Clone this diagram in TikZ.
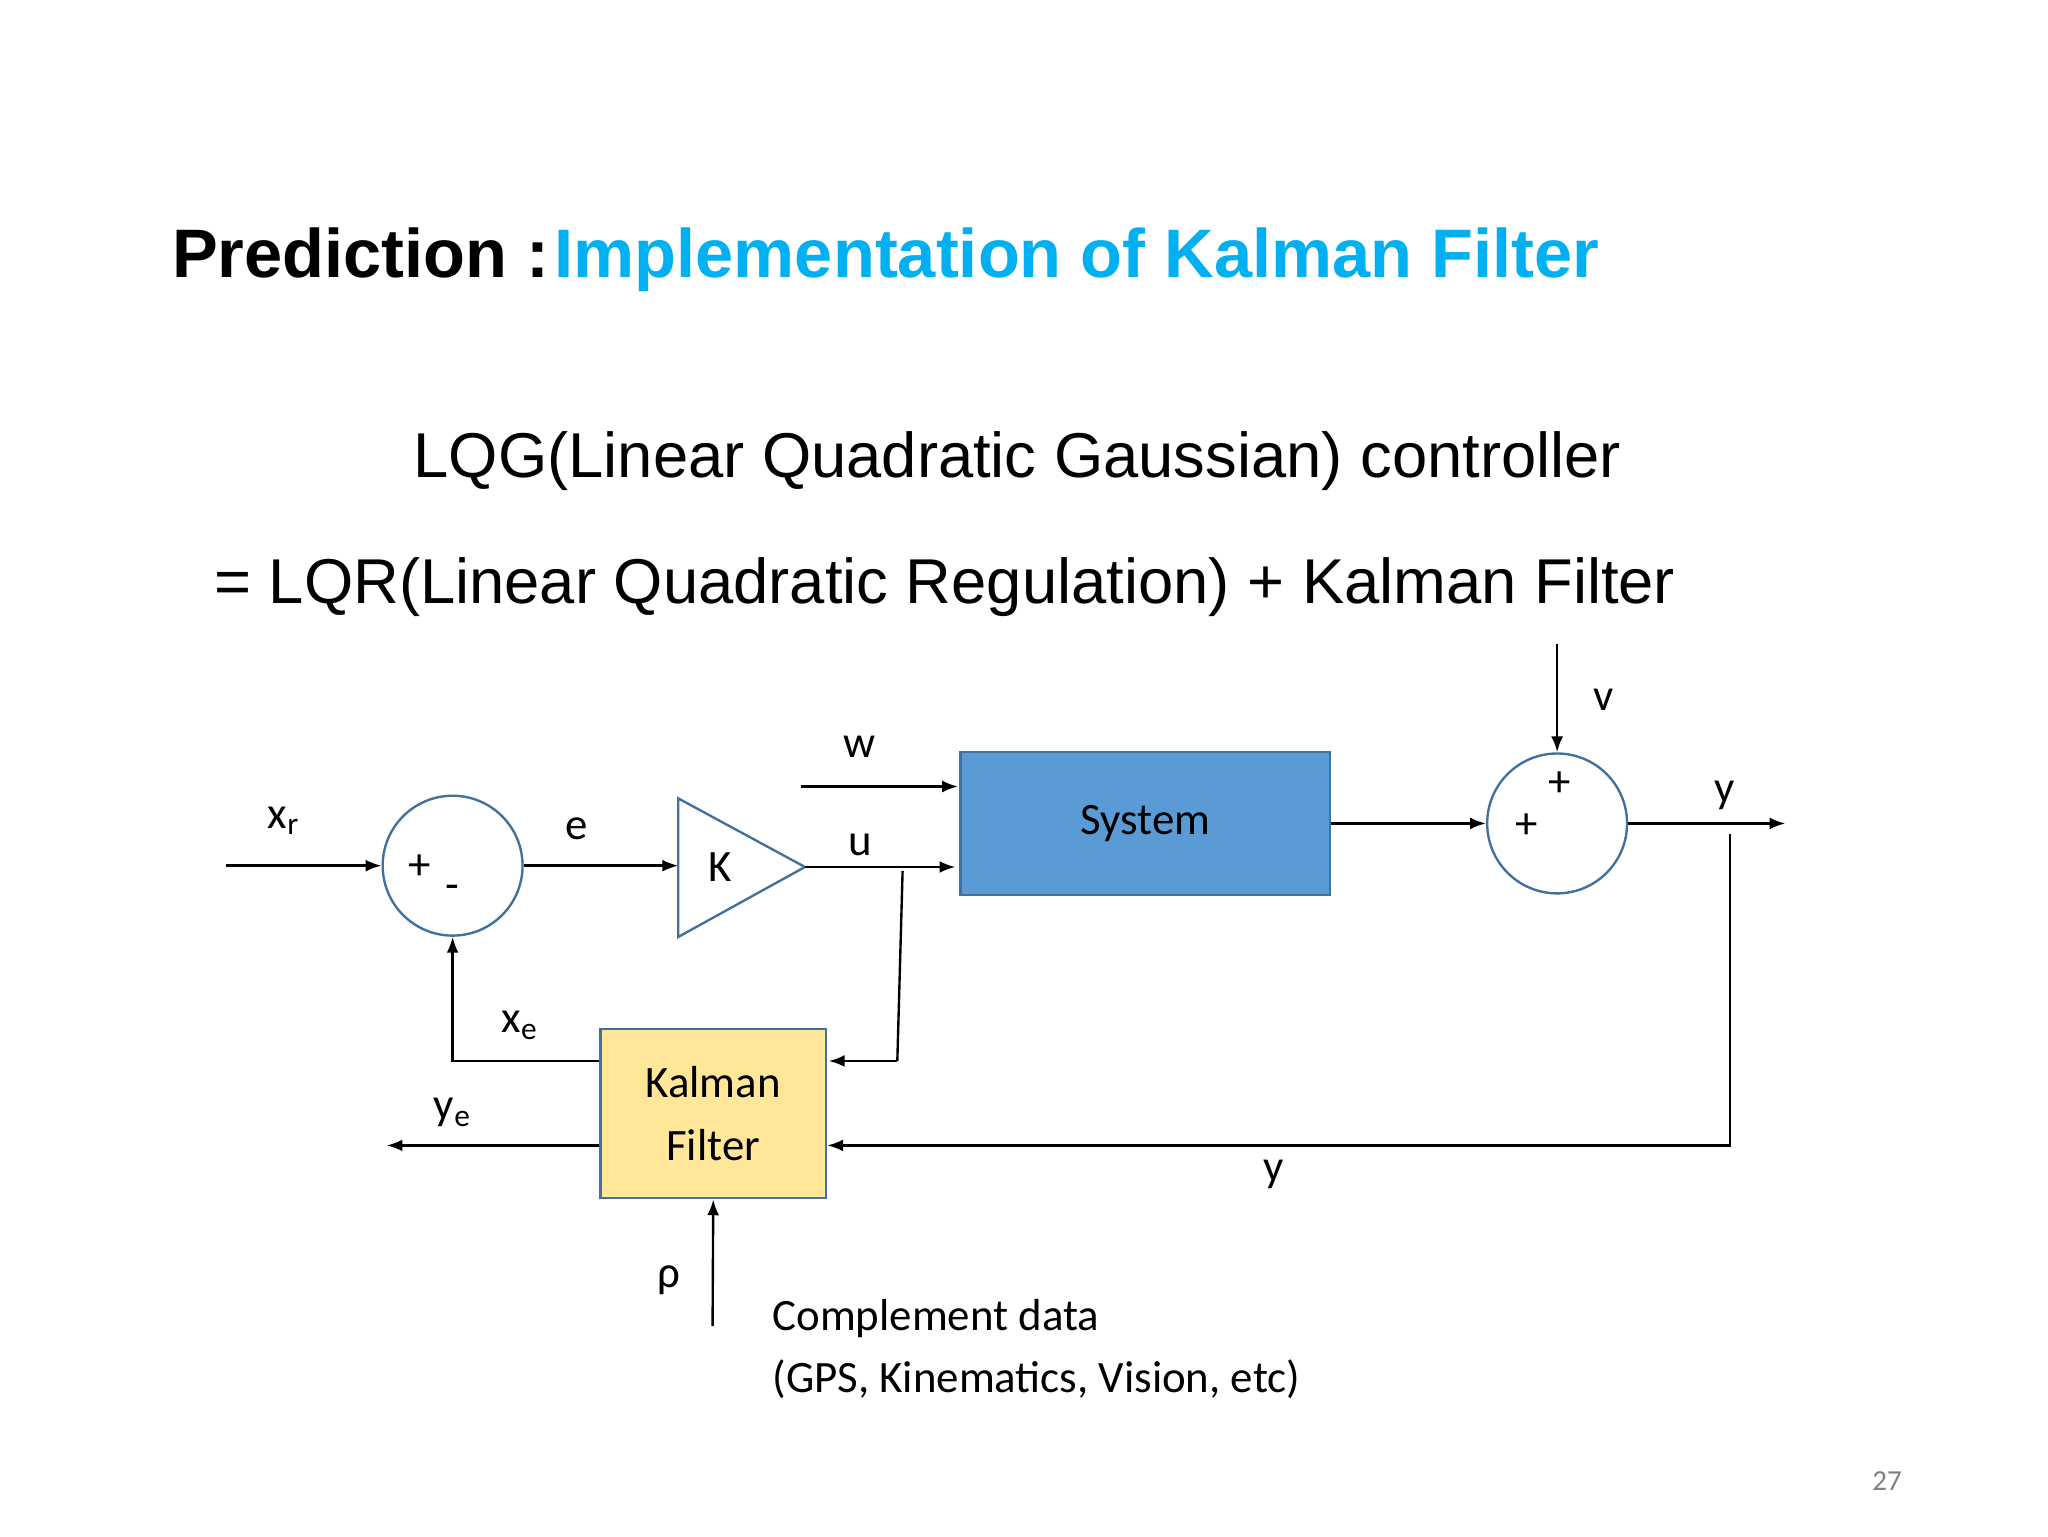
\documentclass[tikz,border=0pt]{standalone}
\usepackage{fontspec}
\setmainfont{Carlito}
\newfontfamily\arialf{Liberation Sans}
\usetikzlibrary{arrows.meta,shapes.geometric}
\definecolor{cy}{RGB}{0,176,240}
\definecolor{bord}{RGB}{65,113,156}
\definecolor{sysb}{RGB}{91,155,213}
\definecolor{kal}{RGB}{255,230,153}
\begin{document}
\begin{tikzpicture}[x=0.5pt,y=-0.5pt,
  arr/.style={-{Latex[length=6pt,width=4.5pt]},line width=0.9pt},
  ln/.style={line width=0.9pt},
  lbl/.style={font=\fontsize{17}{20}\selectfont,inner sep=0pt},
  sum/.style={circle,draw=bord,line width=0.9pt,minimum size=53pt,inner sep=0pt}]
\useasboundingbox[fill=white] (0,0) rectangle (1552,1164);
\node[anchor=base west,inner sep=0pt,font=\arialf\bfseries\fontsize{26}{30}\selectfont] (t1) at (130,210) {Prediction :};
\node[anchor=base west,inner sep=0pt,font=\arialf\bfseries\fontsize{26}{30}\selectfont,text=cy] (t2) at (420,210) {Implementation of Kalman Filter};
\node[anchor=base,inner sep=0pt,font=\arialf\fontsize{24}{28}\selectfont] (l1) at (771,362) {LQG(Linear Quadratic Gaussian) controller};
\node[anchor=base west,inner sep=0pt,font=\arialf\fontsize{24}{28}\selectfont] (l2) at (162,457) {= LQR(Linear Quadratic Regulation) + Kalman Filter};

\node[sum] (s1) at (343,656) {};
\node[sum] (s2) at (1180,624) {};
\draw[bord,line width=0.9pt] (514,605) -- (514,710) -- (610,657) -- cycle;
\coordinate (ktip) at (610,657);
\node[lbl] (K) at (546,657) {K};
\node[draw=bord,fill=sysb,line width=0.9pt,minimum width=140pt,minimum height=54pt,lbl] (sys) at (868,624) {System};
\node[draw=bord,fill=kal,line width=0.9pt,minimum width=85.5pt,minimum height=64pt,align=center,lbl,font=\fontsize{17}{24}\selectfont] (kf) at (540.5,844) {Kalman\\Filter};

\coordinate (xr0) at (171,656);
\coordinate (w0) at (607,596);
\coordinate (v0) at (1180,488);
\coordinate (yend) at (1353,624);
\coordinate (yb) at (1311,632);
\coordinate (yc) at (1311,868);
\coordinate (ub) at (684,660);
\coordinate (uc) at (680,804);
\coordinate (xe1) at (343,804);
\coordinate (ye0) at (293,868);
\coordinate (rho0) at (540,1005);

\draw[arr] (xr0) -- (s1.west);
\draw[arr] (s1.east) -- (514,656);
\draw[arr] (ktip) -- (724,657);
\draw[arr] (w0) -- (726,596);
\draw[arr] (sys.east) -- (s2.west);
\draw[arr] (v0) -- (s2.north);
\draw[arr] (s2.east) -- (yend);
\draw[arr] (yb) -- (yc) -- (kf.east |- yc);
\draw[ln] (ub) -- (uc);
\draw[arr] (uc) -- (628,804);
\draw[arr] (kf.west |- xe1) -- (xe1) -- (s1.south);
\draw[arr] (kf.west |- ye0) -- (ye0);
\draw[arr] (rho0) -- (kf.south);

\node[lbl] (lxr) at (215,622) {x\textsubscript{r}};
\node[lbl] (le) at (437,628) {e};
\node[lbl] (lu) at (652,640) {u};
\node[lbl] (lw) at (651,566) {w};
\node[lbl] (lv) at (1215,530) {v};
\node[lbl] (p1) at (1182,594) {+};
\node[lbl] (p2) at (1157,626) {+};
\node[lbl] (ly) at (1307,603) {y};
\node[lbl] (p3) at (318,657) {+};
\node[lbl] (m1) at (343,676) {-};
\node[lbl] (lxe) at (394,777) {x\textsubscript{e}};
\node[lbl] (lye) at (343,843) {y\textsubscript{e}};
\node[lbl] (ly2) at (965,890) {y};
\node[lbl] (lrho) at (507,970) {ρ};
\node[lbl,anchor=base west] (c1) at (585,1008) {Complement data};
\node[lbl,anchor=base west] (c2) at (585,1055) {(GPS, Kinematics, Vision, etc)};
\node[inner sep=0pt,text=gray,font=\fontsize{11}{13}\selectfont] (pg) at (1430,1122) {27};
\end{tikzpicture}
\end{document}
